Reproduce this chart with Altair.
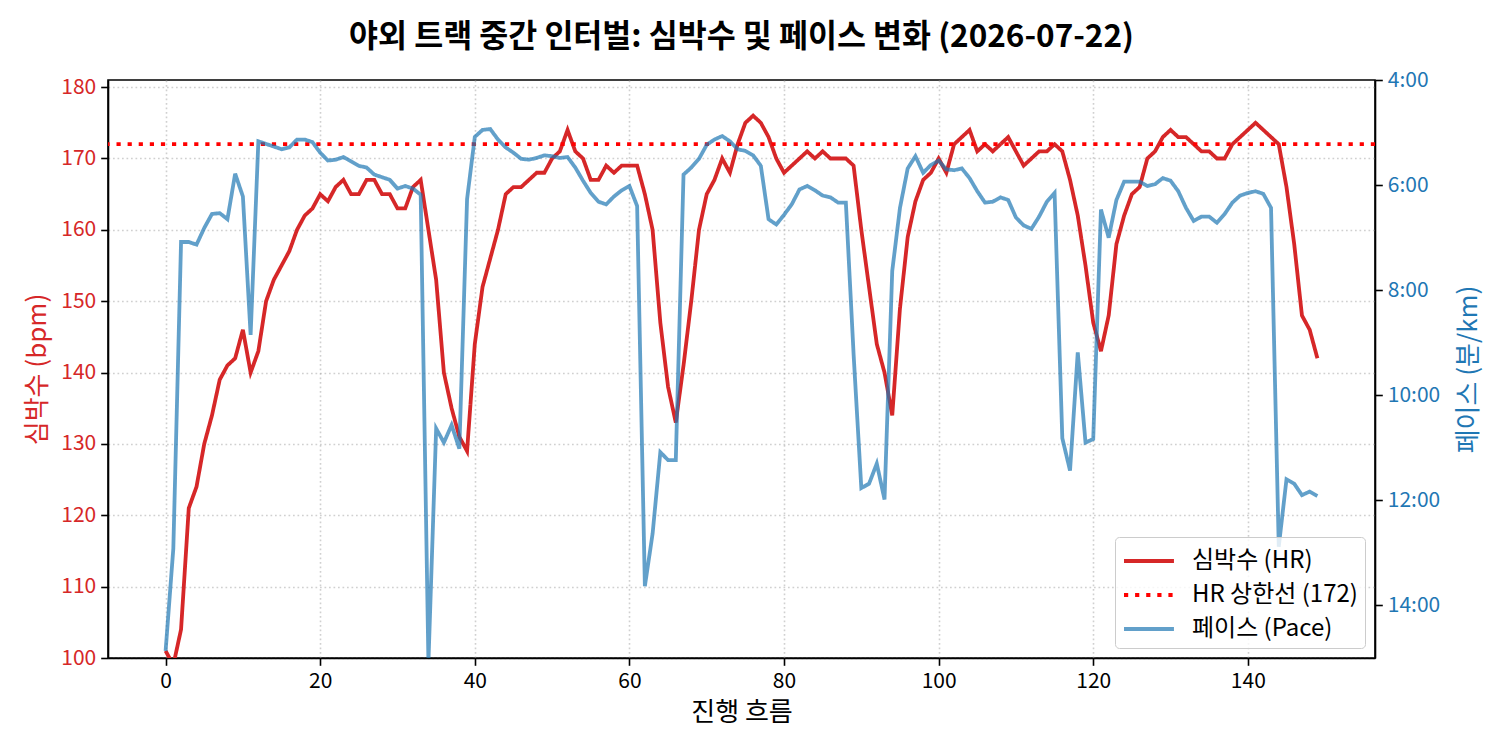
import altair as alt
import pandas as pd

# Interval session: heart rate (bpm) and pace (seconds per km) per step
steps = list(range(150))

heart_rate = [
    101, 99, 104, 121, 124, 130, 134, 139, 141, 142,
    146, 140, 143, 150, 153, 155, 157, 160, 162, 163,
    165, 164, 166, 167, 165, 165, 167, 167, 165, 165,
    163, 163, 166, 167, 160, 153, 140, 135, 131, 129,
    144, 152, 156, 160, 165, 166, 166, 167, 168, 168,
    170, 171, 174, 171, 170, 167, 167, 169, 168, 169,
    169, 169, 165, 160, 147, 138, 133, 141, 150, 160,
    165, 167, 170, 168, 172, 175, 176, 175, 173, 170,
    168, 169, 170, 171, 170, 171, 170, 170, 170, 169,
    160, 152, 144, 140, 134, 149, 159, 164, 167, 168,
    170, 168, 172, 173, 174, 171, 172, 171, 172, 173,
    171, 169, 170, 171, 171, 172, 171, 167, 162, 155,
    147, 143, 148, 158, 162, 165, 166, 170, 171, 173,
    174, 173, 173, 172, 171, 171, 170, 170, 172, 173,
    174, 175, 174, 173, 172, 166, 158, 148, 146, 142,
]

pace_sec = [
    892, 775, 425, 425, 428, 409, 393, 392, 399, 347,
    373, 531, 310, 313, 316, 319, 317, 308, 308, 311,
    323, 332, 331, 328, 333, 338, 340, 348, 351, 354,
    364, 361, 364, 371, 905, 638, 654, 634, 661, 376,
    305, 297, 296, 308, 317, 323, 330, 331, 329, 326,
    327, 329, 328, 340, 355, 369, 379, 382, 373, 366,
    361, 384, 818, 758, 665, 674, 674, 348, 340, 330,
    314, 308, 304, 310, 319, 321, 326, 338, 399, 405,
    394, 382, 365, 361, 366, 372, 374, 380, 380, 553,
    706, 701, 678, 719, 458, 386, 341, 327, 346, 337,
    332, 342, 343, 341, 352, 367, 380, 379, 374, 377,
    397, 406, 410, 396, 379, 369, 649, 686, 551, 654,
    650, 388, 420, 377, 356, 356, 356, 361, 359, 352,
    355, 367, 386, 401, 396, 396, 403, 393, 380, 372,
    369, 367, 370, 386, 773, 696, 701, 714, 710, 715,
]

hr_limit = 172

hr_ticks = list(range(100, 181, 10))
pace_ticks = [240, 360, 480, 600, 720, 840]
step_ticks = list(range(0, 141, 20))

HR_NAME = "심박수 (HR)"
LIMIT_NAME = f"HR 상한선 ({hr_limit})"
PACE_NAME = "페이스 (Pace)"

RED = "#d62728"
BLUE = "#1f77b4"
PACE_STROKE = "rgba(31, 119, 180, 0.7)"  # tab:blue at 70% alpha
FONT = "Noto Sans CJK KR"

PLOT_W = 1267
PLOT_H = 578

series_order = [HR_NAME, LIMIT_NAME, PACE_NAME]
series_colors = [RED, "#ff0000", PACE_STROKE]
series_dash = [[1, 0], [4.2, 6.9], [1, 0]]

hr_df = pd.DataFrame({"step": steps, "bpm": heart_rate, "series": HR_NAME})
limit_df = pd.DataFrame({"bpm": [hr_limit], "series": [LIMIT_NAME]})
pace_df = pd.DataFrame({"step": steps, "pace": pace_sec, "series": PACE_NAME})

color = alt.Color(
    "series:N",
    scale=alt.Scale(domain=series_order, range=series_colors),
    legend=alt.Legend(title=None),
)
dash = alt.StrokeDash(
    "series:N",
    scale=alt.Scale(domain=series_order, range=series_dash),
    legend=alt.Legend(title=None),
)

x_enc = alt.X(
    "step:Q",
    scale=alt.Scale(domain=[-7.45, 156.45], nice=False, zero=False),
    axis=alt.Axis(values=step_ticks, title="진행 흐름", grid=True, titlePadding=8),
)

hr_y = alt.Y(
    "bpm:Q",
    scale=alt.Scale(domain=[100, 181], nice=False, zero=False),
    axis=alt.Axis(
        values=hr_ticks,
        title="심박수 (bpm)",
        labelColor=RED,
        titleColor=RED,
        grid=True,
        titlePadding=10,
    ),
)

hr_line = (
    alt.Chart(hr_df)
    .mark_line(strokeWidth=3.8, clip=True)
    .encode(x=x_enc, y=hr_y, color=color, strokeDash=dash)
)

limit_rule = (
    alt.Chart(limit_df)
    .mark_rule(strokeWidth=3.8)
    .encode(y=alt.Y("bpm:Q"), color=color, strokeDash=dash)
)

pace_label = (
    "floor(datum.value / 60) + ':' + "
    "(datum.value % 60 < 10 ? '0' : '') + (datum.value % 60)"
)

pace_line = (
    alt.Chart(pace_df)
    .mark_line(strokeWidth=3.8, clip=True)
    .encode(
        x=x_enc,
        y=alt.Y(
            "pace:Q",
            scale=alt.Scale(domain=[240, 900], reverse=True, nice=False, zero=False),
            axis=alt.Axis(
                orient="right",
                values=pace_ticks,
                labelExpr=pace_label,
                title="페이스 (분/km)",
                titleAngle=270,
                titleX=93,
                titleY=PLOT_H / 2,
                titleAlign="center",
                titleBaseline="middle",
                labelColor=BLUE,
                titleColor=BLUE,
                grid=False,
            ),
        ),
        color=color,
        strokeDash=dash,
    )
)

left = alt.layer(hr_line, limit_rule)

chart = (
    alt.layer(left, pace_line)
    .resolve_scale(y="independent")
    .properties(
        width=PLOT_W,
        height=PLOT_H,
        title="야외 트랙 중간 인터벌: 심박수 및 페이스 변화 (2026-07-22)",
        padding={"left": 108, "top": 80, "right": 125, "bottom": 92},
        autosize=alt.AutoSizeParams(type="none"),
        background="white",
    )
    .configure(font=FONT)
    .configure_view(stroke="black", strokeWidth=1.6)
    .configure_axis(
        domainColor="black",
        domainWidth=1.6,
        tickColor="black",
        tickWidth=1.6,
        tickSize=7.3,
        labelFont=FONT,
        labelFontSize=21,
        labelColor="black",
        labelPadding=5,
        titleFont=FONT,
        titleFontSize=26,
        titleFontWeight="normal",
        titleColor="black",
        gridColor="#b0b0b0",
        gridOpacity=0.6,
        gridDash=[1.7, 2.8],
        gridWidth=1.6,
    )
    .configure_legend(
        orient="bottom-right",
        offset=10,
        padding=7,
        symbolType="M-1,0H2.33",
        symbolSize=900,
        symbolStrokeWidth=3.8,
        labelFont=FONT,
        labelFontSize=24,
        labelLimit=400,
        labelColor="black",
        labelOffset=36,
        rowPadding=5,
        fillColor="rgba(255,255,255,0.8)",
        strokeColor="#cccccc",
        cornerRadius=4,
    )
    .configure_title(
        font=FONT,
        fontSize=31.5,
        fontWeight="bold",
        color="black",
        anchor="middle",
        offset=16,
    )
)

chart.save("out.html", embed_options={"renderer": "svg", "actions": False})
